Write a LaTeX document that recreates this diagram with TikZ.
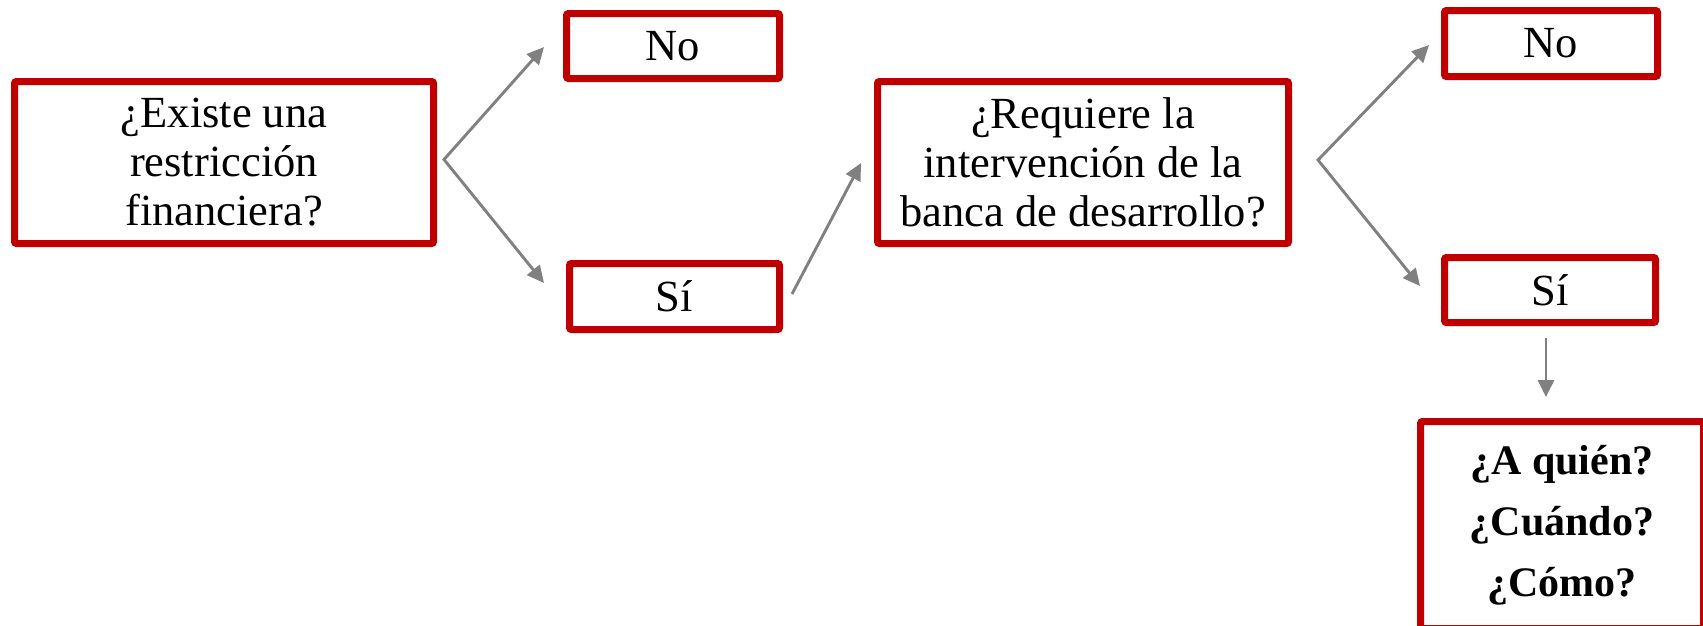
\documentclass[tikz,border=0pt]{standalone}
\usepackage{fontspec}
\setmainfont{Liberation Serif}
\usetikzlibrary{arrows.meta,calc}
\definecolor{boxred}{HTML}{C00000}
\definecolor{arrgray}{HTML}{808080}
\begin{document}
\begin{tikzpicture}[x=1pt,y=-1pt,
  box/.style={draw=boxred,line width=7pt,rounded corners=2pt,fill=white,inner sep=0pt,align=center,font=\fontsize{44.5}{49}\selectfont},
  conn/.style={draw=arrgray,line width=2.9pt,line join=miter},
  tipa/.style={-{Triangle[length=17pt,width=16pt]}},
  tipb/.style={{Triangle[length=17pt,width=16pt]}-{Triangle[length=17pt,width=16pt]}}]
\useasboundingbox (0,0) rectangle (1703,625);
\node[box,minimum width=419pt,minimum height=162pt] (q1) at (224,162.5) {¿Existe una\\restricción\\financiera?};
\node[box,minimum width=213pt,minimum height=65pt] (no1) at (673,46) {No};
\node[box,minimum width=210pt,minimum height=66pt] (si1) at (674.5,296.5) {Sí};
\node[box,minimum width=411pt,minimum height=162pt] (q2) at (1083,162.5) {¿Requiere la\\intervención de la\\banca de desarrollo?};
\node[box,minimum width=213pt,minimum height=66pt] (no2) at (1551,43.5) {No};
\node[box,minimum width=211pt,minimum height=65pt] (si2) at (1550,290) {Sí};
\node[box,minimum width=283pt,minimum height=207pt,font=\fontsize{42}{61}\selectfont\bfseries] (q3) at (1562,525) {¿A quién?\\¿Cuándo?\\¿Cómo?};
% connectors
\coordinate (f1) at ($(q1.east)+(7,-3)$);
\coordinate (n1t) at ($(no1.west)+(-19,1)$);
\coordinate (s1t) at ($(si1.west)+(-22,-13.5)$);
\draw[conn,tipb] (n1t) -- (f1) -- (s1t);
\coordinate (s1o) at ($(si1.east)+(9,-2.5)$);
\coordinate (q2i) at ($(q2.west)+(-13,0.5)$);
\draw[conn,tipa] (s1o) -- (q2i);
\coordinate (f2) at ($(q2.east)+(26,-2.5)$);
\coordinate (n2t) at ($(no2.west)+(-12,1.5)$);
\coordinate (s2t) at ($(si2.west)+(-21,-4)$);
\draw[conn,tipb] (n2t) -- (f2) -- (s2t);
\coordinate (s2o) at ($(si2.south)+(-4,12)$);
\coordinate (q3i) at ($(q3.north)+(-16,-21)$);
\draw[conn,tipa] (s2o) -- (q3i);
\end{tikzpicture}
\end{document}
